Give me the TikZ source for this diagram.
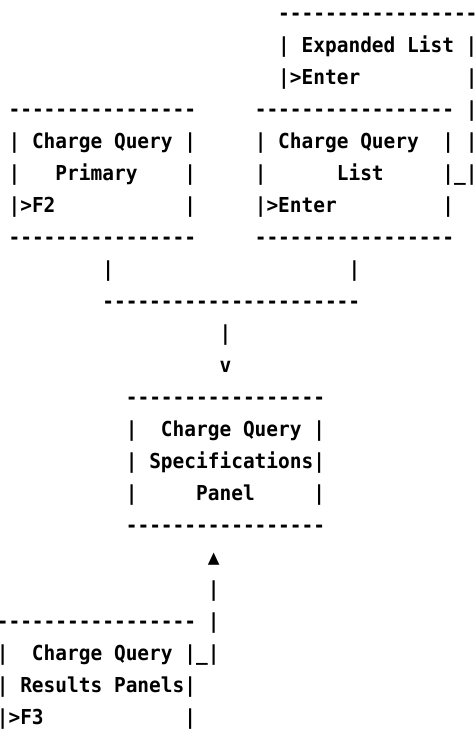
\documentclass[tikz,border=0pt]{standalone}
\usepackage{fontspec}
\setmonofont[FakeStretch=0.945]{DejaVu Sans Mono}
\usepackage{tikz}

\tikzset{asc/.style={anchor=base west, inner sep=0pt, outer sep=0pt, font=\ttfamily\bfseries\fontsize{20.6pt}{32pt}\selectfont}}

\begin{document}
\begin{tikzpicture}[x=11.725pt,y=-32pt]
		\useasboundingbox (0.2695,-0.6406) rectangle (40.866,22.766);
		% expanded list
		\node[asc] (exptop) at (24,0) {-----------------};
		\node[asc] (exptitle) at (24,1) {| Expanded List |};
		\node[asc] (expkey) at (24,2) {|>Enter~~~~~~~~~|};
		\node[asc] (expside1) at (40,3) {|};
		\node[asc] (expside2) at (40,4) {|};
		\node[asc] (expside3) at (39,5) {\_|};
		% charge query primary
		\node[asc] (primtop) at (1,3) {----------------};
		\node[asc] (primtitle) at (1,4) {| Charge Query |};
		\node[asc] (primname) at (1,5) {|~~~Primary~~~~|};
		\node[asc] (primkey) at (1,6) {|>F2~~~~~~~~~~~|};
		\node[asc] (primbot) at (1,7) {----------------};
		% charge query list
		\node[asc] (listtop) at (22,3) {-----------------};
		\node[asc] (listtitle) at (22,4) {| Charge Query~~|};
		\node[asc] (listname) at (22,5) {|~~~~~~List~~~~~|};
		\node[asc] (listkey) at (22,6) {|>Enter~~~~~~~~~|};
		\node[asc] (listbot) at (22,7) {-----------------};
		% join
		\node[asc] (primdown) at (9,8) {|};
		\node[asc] (listdown) at (30,8) {|};
		\node[asc] (join) at (9,9) {----------------------};
		\node[asc] (joindown) at (19,10) {|};
		\node[asc] (joinhead) at (19,11) {v};
		% specifications panel
		\node[asc] (spectop) at (11,12) {-----------------};
		\node[asc] (spectitle) at (11,13) {|~~Charge Query |};
		\node[asc] (specname) at (11,14) {| Specifications|};
		\node[asc] (specpanel) at (11,15) {|~~~~~Panel~~~~~|};
		\node[asc] (specbot) at (11,16) {-----------------};
		% results panels
		\node[asc] (reshead) at (18,17) {▲};
		\node[asc] (resup1) at (18,18) {|};
		\node[asc] (restop) at (0,19) {-----------------~|};
		\node[asc] (restitle) at (0,20) {|~~Charge Query |\_|};
		\node[asc] (resname) at (0,21) {| Results Panels|};
		\node[asc] (reskey) at (0,22) {|>F3~~~~~~~~~~~~|};
	\end{tikzpicture}
\end{document}
